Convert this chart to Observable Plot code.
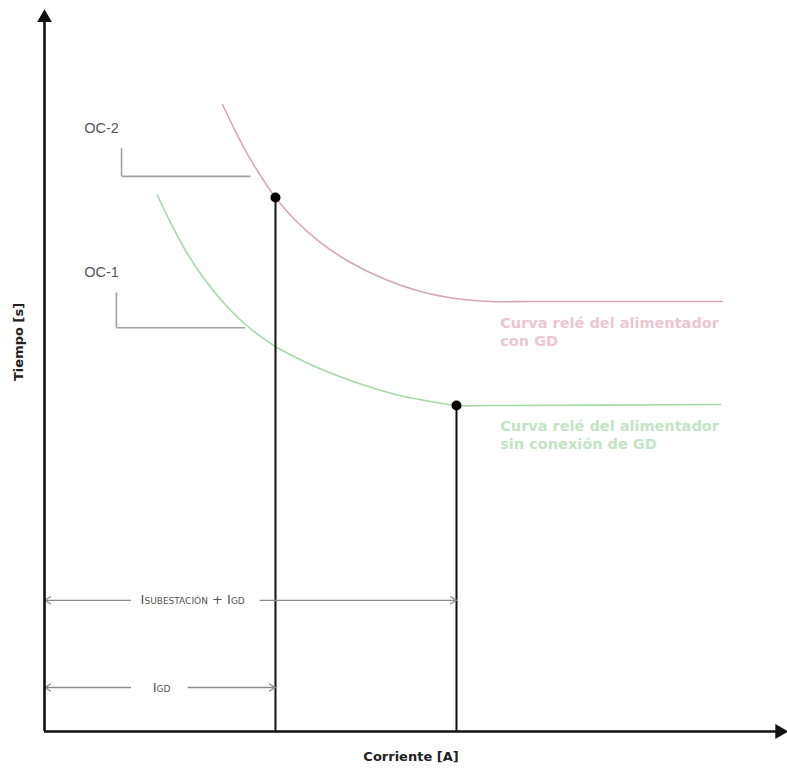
<!DOCTYPE html>
<html>
<head>
<meta charset="utf-8">
<script src="https://cdn.jsdelivr.net/npm/d3@7"></script>
<script src="https://cdn.jsdelivr.net/npm/@observablehq/plot@0.6"></script>
<style>
  html, body { margin: 0; padding: 0; background: #fff; }
  #chart svg { display: block; }
</style>
</head>
<body>
<div id="chart"></div>
<script>
// ---- data (abstract units: current 0..100, time 0..100) ----
const oc2Curve = [
  [24.02, 86.96], [25.64, 83.50], [27.26, 80.31], [28.88, 77.53], [31.17, 74.06],
  [33.87, 70.87], [37.25, 67.82], [41.30, 65.05], [46.02, 62.69], [50.74, 61.03],
  [55.47, 60.06], [60.19, 59.64], [65.59, 59.64], [91.50, 59.64]
];
const oc1Curve = [
  [15.25, 74.34], [17.00, 70.60], [19.03, 66.71], [21.32, 63.11], [24.02, 59.64],
  [27.13, 56.45], [31.17, 53.40], [35.90, 50.90], [41.30, 48.68], [47.37, 46.74],
  [52.09, 45.77], [55.60, 45.21], [60.19, 45.21], [91.23, 45.35]
];
const operatingPoints = [
  {name: "OC-2", x: 31.17, y: 74.06},
  {name: "OC-1", x: 55.60, y: 45.21}
];
const leaderLabels = ["OC-2", "OC-1"];
const leaderLabelX = [7.7, 7.7];
const leaderLabelY = [83.6, 63.7];
const leaderX0 = [10.4, 9.7];
const leaderTopY = [80.9, 60.9];
const leaderElbowY = [77.0, 56.0];
const leaderX1 = [27.8, 27.1];

const curveLabels = ["Curva relé del alimentador\ncon GD", "Curva relé del alimentador\nsin conexión de GD"];
const curveLabelX = [61.5, 61.5];
const curveLabelY = [57.8, 43.5];

const dimLabels = ["ISUBESTACIÓN + IGD", "IGD"];
const dimY = [18.2, 6.1];
const dimStart = [0, 0];
const dimEnd = [55.6, 31.17];
const dimGapLeft = [11.6, 11.6];
const dimGapRight = [29.1, 19.4];
const dimTextX = [20.0, 15.8];

const axisLabels = {x: "Corriente [A]", y: "Tiempo [s]"};

// ---- colours ----
const pink = "#d5a6b6";
const green = "#a6d8a8";
const gray = "#8a8a8a";

const leaders = leaderLabels.map((name, i) => ({
  name, lx: leaderLabelX[i], ly: leaderLabelY[i],
  x0: leaderX0[i], yTop: leaderTopY[i], yElbow: leaderElbowY[i], x1: leaderX1[i]
}));
const curveText = curveLabels.map((t, i) => ({t, x: curveLabelX[i], y: curveLabelY[i], c: i === 0 ? "#ecc6d1" : "#c2e5c3"}));
const dims = dimLabels.map((label, i) => ({
  label, y: dimY[i], x0: dimStart[i], x1: dimEnd[i], gl: dimGapLeft[i], gr: dimGapRight[i], tx: dimTextX[i]
}));

const chart = Plot.plot({
  width: 787,
  height: 773,
  marginTop: 10,
  marginRight: 2,
  marginBottom: 42,
  marginLeft: 44,
  x: {domain: [0, 100], axis: null},
  y: {domain: [0, 100], axis: null},
  style: {fontFamily: "Liberation Sans, Arial, sans-serif", background: "#fff"},
  marks: [
    // curves
    Plot.line(oc2Curve, {x: d => d[0], y: d => d[1], stroke: pink, strokeWidth: 1.6, curve: "catmull-rom"}),
    Plot.line(oc1Curve, {x: d => d[0], y: d => d[1], stroke: green, strokeWidth: 1.6, curve: "catmull-rom"}),
    // curve labels
    Plot.text(curveText, {x: "x", y: "y", text: "t", fill: "c", textAnchor: "start", lineAnchor: "top", fontSize: 14.5, fontWeight: "bold", fontFamily: "DejaVu Sans", lineHeight: 1.25}),
    // leader lines
    Plot.link(leaders, {x1: "x0", y1: "yTop", x2: "x0", y2: "yElbow", stroke: "#a0a0a0", strokeWidth: 1.6}),
    Plot.link(leaders, {x1: "x0", y1: "yElbow", x2: "x1", y2: "yElbow", stroke: "#a0a0a0", strokeWidth: 1.6}),
    Plot.text(leaders, {x: "lx", y: "ly", text: "name", fontSize: 14.5, fill: "#555"}),
    // vertical drop lines
    Plot.ruleX(operatingPoints, {x: "x", y1: 0, y2: "y", stroke: "#111", strokeWidth: 2}),
    Plot.dot(operatingPoints, {x: "x", y: "y", r: 5, fill: "#000"}),
    // dimension arrows
    Plot.arrow(dims, {x1: "gl", y1: "y", x2: "x0", y2: "y", stroke: gray, strokeWidth: 1.3, headLength: 8, bend: 0}),
    Plot.arrow(dims, {x1: "gr", y1: "y", x2: "x1", y2: "y", stroke: gray, strokeWidth: 1.3, headLength: 8, bend: 0}),
    Plot.text(dims, {x: "tx", y: "y", text: "label", fontSize: 13, fontFamily: "DejaVu Sans", fill: "#555"}),
    // axes
    Plot.ruleX([0], {y1: 0, y2: 98.5, stroke: "#111", strokeWidth: 2.6}),
    Plot.ruleY([0], {x1: 0, x2: 98.8, stroke: "#111", strokeWidth: 2.6}),
    Plot.dot([{x: 0, y: 99}], {x: "x", y: "y", symbol: "triangle", r: 5.5, fill: "#111", stroke: null}),
    Plot.dot([{x: 99.2, y: 0}], {x: "x", y: "y", symbol: "triangle", r: 5.5, fill: "#111", stroke: null, rotate: 90}),
    // axis labels
    Plot.text([axisLabels.x], {frameAnchor: "bottom", dy: 29, dx: -4, fontSize: 13, fontWeight: "bold", fontFamily: "DejaVu Sans", fill: "#222"}),
    Plot.text([axisLabels.y], {frameAnchor: "left", dx: -26, dy: 10, rotate: -90, fontSize: 13, fontWeight: "bold", fontFamily: "DejaVu Sans", fill: "#222"})
  ]
});

// render subscripts as small-caps tspans
d3.select(chart).selectAll("text").each(function() {
  const t = this.textContent;
  if (t === dimLabels[0] || t === dimLabels[1]) {
    const sel = d3.select(this);
    sel.text(null);
    const parts = t === dimLabels[0]
      ? [["I", 13], ["SUBESTACIÓN", 9], [" + ", 13], ["I", 13], ["GD", 9]]
      : [["I", 13], ["GD", 9]];
    for (const [s, fs] of parts) sel.append("tspan").attr("font-size", fs).text(s);
  }
});

document.getElementById("chart").appendChild(chart);
</script>
</body>
</html>
